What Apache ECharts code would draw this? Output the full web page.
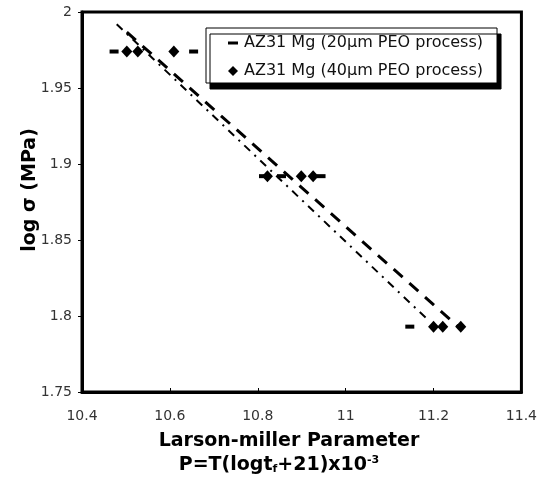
<!DOCTYPE html>
<html><head><meta charset="utf-8">
<script src="https://cdn.jsdelivr.net/npm/echarts@6/dist/echarts.min.js"></script>
<style>html,body{margin:0;padding:0;background:#fff}#c{width:540px;height:487px}</style>
</head><body><div id="c"></div>
<script>
// Tick values
const xTicks = [10.4, 10.6, 10.8, 11, 11.2, 11.4];
const yTicks = [1.75, 1.8, 1.85, 1.9, 1.95, 2];
// Series names
const seriesNames = ['AZ31 Mg (20\u03bcm PEO process)', 'AZ31 Mg (40\u03bcm PEO process)'];
// 20um series (dash markers)
const p20 = [10.473, 10.654, 10.813, 10.854, 10.944, 11.146];
const s20 = [1.974, 1.974, 1.892, 1.892, 1.892, 1.793];
// 40um series (diamond markers)
const p40 = [10.502, 10.527, 10.609, 10.822, 10.899, 10.926, 11.200, 11.221, 11.262];
const s40 = [1.974, 1.974, 1.974, 1.892, 1.892, 1.892, 1.793, 1.793, 1.793];
// trend lines (endpoints)
const trend20X = [10.479, 11.189];
const trend20Y = [1.992, 1.797];
const trend40X = [10.502, 11.262];
const trend40Y = [1.9868, 1.7915];

const zip = (a, b) => a.map((v, i) => [v, b[i]]);
const chart = echarts.init(document.getElementById('c'), null, {renderer: 'canvas'});
const dashIcon = 'path://M0,3.5 L10,3.5 L10,6.5 L0,6.5 Z M0,0 L0.01,0 L0.01,0.01 Z M9.99,9.99 L10,9.99 L10,10 Z';
chart.setOption({
  animation: false,
  backgroundColor: '#fff',
  grid: {left: 82, right: 17, top: 12, bottom: 95, show: true, borderColor: '#000', borderWidth: 3, backgroundColor: '#fff'},
  xAxis: {
    type: 'value', min: xTicks[0], max: xTicks[xTicks.length - 1], interval: 0.2,
    axisLine: {show: true, lineStyle: {color: '#000', width: 3}},
    axisTick: {show: true, inside: true, length: 4, lineStyle: {color: '#000', width: 1}},
    splitLine: {show: false},
    axisLabel: {margin: 17, color: '#333', fontSize: 14, fontFamily: 'DejaVu Sans'}
  },
  yAxis: {
    type: 'value', min: yTicks[0], max: yTicks[yTicks.length - 1], interval: 0.05,
    axisLine: {show: true, lineStyle: {color: '#000', width: 3}},
    axisTick: {show: true, inside: false, length: 4, lineStyle: {color: '#000', width: 1}},
    splitLine: {show: false},
    axisLabel: {margin: 10, color: '#333', fontSize: 14, fontFamily: 'DejaVu Sans'}
  },
  legend: {
    orient: 'vertical', left: 206, top: 28,
    padding: [7, 14, 4, 22], itemGap: 12, itemWidth: 10, itemHeight: 10,
    backgroundColor: '#fff', borderColor: '#000', borderWidth: 1,
    shadowColor: '#000', shadowBlur: 0, shadowOffsetX: 4, shadowOffsetY: 6,
    textStyle: {color: '#111', fontSize: 16, fontFamily: 'DejaVu Sans', padding: [0, 0, 0, 1]},
    data: [
      {name: seriesNames[0], icon: dashIcon},
      {name: seriesNames[1], icon: 'diamond'}
    ]
  },
  graphic: [
    {type: 'text', x: 289, y: 441, style: {text: 'Larson-miller Parameter', fill: '#000', font: 'bold 19px "DejaVu Sans"', align: 'center', verticalAlign: 'middle'}},
    {type: 'text', x: 279, y: 465, style: {
      text: 'P=T(logt{sub|f}+21)x10{sup|-3}', fill: '#000', font: 'bold 19px "DejaVu Sans"', align: 'center', verticalAlign: 'middle',
      rich: {
        sub: {fontSize: 11, fontWeight: 'bold', fontFamily: 'DejaVu Sans', fill: '#000', padding: [8, 0, 0, 0]},
        sup: {fontSize: 11, fontWeight: 'bold', fontFamily: 'DejaVu Sans', fill: '#000', padding: [0, 0, 9, 0]}
      }}},
    {type: 'text', x: 30, y: 190, rotation: Math.PI / 2, style: {text: 'log \u03c3 (MPa)', fill: '#000', font: 'bold 19px "DejaVu Sans"', align: 'center', verticalAlign: 'middle'}}
  ],
  series: [
    {name: seriesNames[0], type: 'scatter', data: zip(p20, s20), symbol: 'rect', symbolSize: [9, 4], itemStyle: {color: '#000', opacity: 1}, z: 3},
    {name: seriesNames[1], type: 'scatter', data: zip(p40, s40), symbol: 'diamond', symbolSize: [11, 12], itemStyle: {color: '#000', opacity: 1}, z: 3},
    {name: 'trend20', type: 'line', data: zip(trend20X, trend20Y), symbol: 'none', lineStyle: {color: '#000', width: 2, type: [8, 6, 2, 6]}, z: 2},
    {name: 'trend40', type: 'line', data: zip(trend40X, trend40Y), symbol: 'none', lineStyle: {color: '#000', width: 3, type: [12, 9]}, z: 2}
  ]
});
</script></body></html>
